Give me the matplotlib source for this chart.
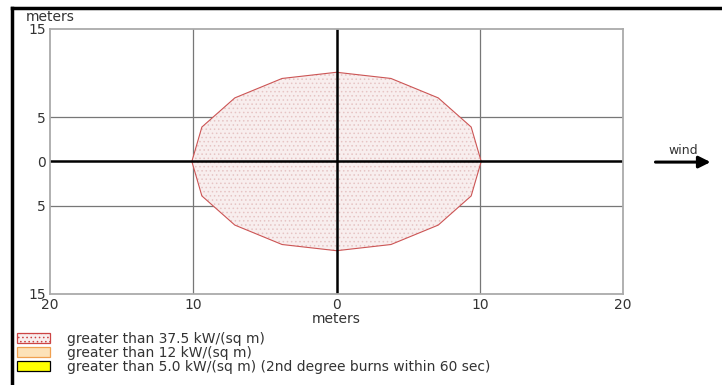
import matplotlib.pyplot as plt
from matplotlib.patches import Patch
from matplotlib.lines import Line2D

# threat zone footprint (meters)
zone_x = [0.0, 3.8, 7.1, 9.4, 10.1, 9.4, 7.1, 3.8, 0.0, -3.8, -7.1, -9.4, -10.1, -9.4, -7.1, -3.8]
zone_y = [10.1, 9.4, 7.2, 3.9, 0.0, -3.9, -7.2, -9.4, -10.1, -9.4, -7.2, -3.9, 0.0, 3.9, 7.2, 9.4]

x_ticks = [-20, -10, 0, 10, 20]
x_labels = ['20', '10', '0', '10', '20']
y_ticks = [-15, -5, 0, 5, 15]
y_labels = ['15', '5', '0', '5', '15']

legend_labels = [
    'greater than 37.5 kW/(sq m)',
    'greater than 12 kW/(sq m)',
    'greater than 5.0 kW/(sq m) (2nd degree burns within 60 sec)',
]

plt.rcParams['font.family'] = 'DejaVu Sans'
txt = '#333333'

fig = plt.figure(figsize=(7.22, 3.85), dpi=100)
ax = fig.add_axes([0.0693, 0.2364, 0.7936, 0.6883])

plt.rcParams['hatch.linewidth'] = 0.6
ax.fill(zone_x, zone_y, facecolor='#f8eeee', edgecolor='#e6c4c4', hatch='....', linewidth=0)
ax.fill(zone_x, zone_y, facecolor='none', edgecolor='#cc5555', linewidth=0.8)

for gx in [-10, 10]:
    ax.axvline(gx, color='#777777', linewidth=0.9, zorder=0)
for gy in [-5, 5]:
    ax.axhline(gy, color='#777777', linewidth=0.9, zorder=0)
ax.axvline(0, color='black', linewidth=1.8)
ax.axhline(0, color='black', linewidth=1.8)

ax.set_xlim(-20, 20)
ax.set_ylim(-15, 15)
ax.set_xticks(x_ticks)
ax.set_xticklabels(x_labels)
ax.set_yticks(y_ticks)
ax.set_yticklabels(y_labels)
ax.tick_params(length=0, labelsize=10, colors=txt, pad=3)
for s in ax.spines.values():
    s.set_color('#aaaaaa')
    s.set_linewidth(1.3)
ax.set_xlabel('meters', fontsize=10, color=txt, labelpad=0)
fig.text(0.035, 0.955, 'meters', fontsize=10, color=txt, va='center')

# wind arrow
ax.annotate('', xy=(0.988, 0.579), xytext=(0.904, 0.579), xycoords='figure fraction',
            arrowprops=dict(arrowstyle='-|>,head_length=0.7,head_width=0.35', color='black', lw=2.2))
fig.text(0.947, 0.610, 'wind', fontsize=9, color=txt, ha='center', va='center')

# frame of the screenshot: top and left only
fig.add_artist(Line2D([0.0166, 1.0], [0.979, 0.979], color='black', linewidth=2.5))
fig.add_artist(Line2D([0.0166, 0.0166], [0.0, 0.979], color='black', linewidth=2.5))

handles = [
    Patch(facecolor='#f8eeee', edgecolor='#cc4444', hatch='....', linewidth=0.9),
    Patch(facecolor='#fde2b8', edgecolor='#f0a050', linewidth=0.9),
    Patch(facecolor='#ffff00', edgecolor='black', linewidth=0.9),
]
fig.legend(handles, legend_labels, loc='upper left', bbox_to_anchor=(0.016, 0.152),
           frameon=False, fontsize=10, handlelength=2.4, handleheight=0.7,
           labelspacing=0.0, handletextpad=1.2, labelcolor=txt, borderaxespad=0)

fig.savefig('out.png', dpi=100)
